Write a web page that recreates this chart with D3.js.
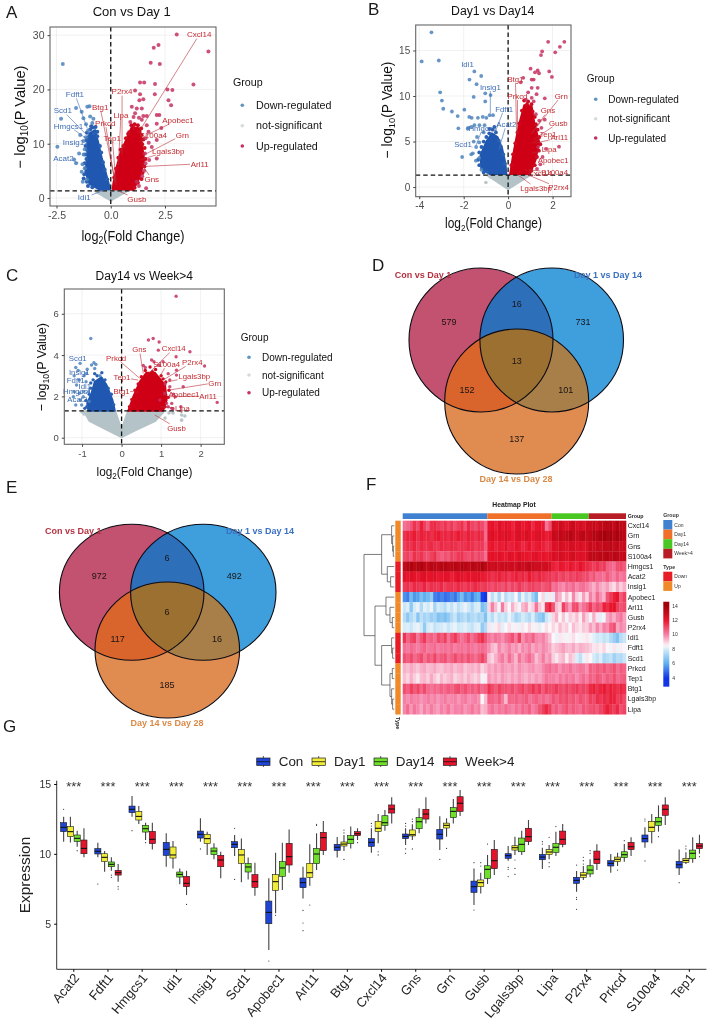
<!DOCTYPE html>
<html><head><meta charset="utf-8">
<script src="https://cdn.jsdelivr.net/npm/d3@7"></script>
<style>html,body{margin:0;padding:0;background:#fff}svg{display:block;filter:blur(.35px)}text{font-family:"Liberation Sans",Arial,sans-serif}</style>
</head><body><svg id="c" width="709" height="1020"></svg>
<script>
// ---------- Volcano data (dense centres are outlines) ----------
const upA=[[3.04,30.1],[4.5,27],[2.2,28.2],[1.98,27.7],[1.84,24.9],[2.26,24.7],[1.35,21.3],[1.54,21.3],[2.04,21],[3.81,20.9],[2.61,20],[2.84,19.9],[2.03,19.1],[1.12,19.8],[1.35,19.1],[2.66,18],[2.78,17.1],[1.5,18.2],[.97,16.8],[2.12,15.3],[2.24,15.3],[1.5,15.1],[1.12,15.6],[1.66,15.1],[2.33,12.9],[2.12,13.7],[1.43,16.5],[1.32,18],[1.2,16.5],[1.63,1.8],[1.54,5],[1.6,6.4],[1.77,7],[2.12,7.3],[1.58,8.2],[1.89,9.4],[2.12,10.7],[1.74,12.2],[1.66,13.4],[1.43,14.4],[1.3,14.8],[1.05,14.9],[.9,14],[1.6,11],[1.75,10.2],[1.45,4],[1.2,3],[1.3,2.2]];
const downA=[[-2.21,24.7],[-2.46,9.45],[-2.29,14.6],[-1.6,16.6],[-1.34,15.9],[-1.08,16.8],[-.98,16.9],[-1.26,14.7],[-.95,15],[-1.14,13.6],[-1.41,11.6],[-1.46,8.2],[-1.6,6.4],[-1.69,7.1],[-1.34,4.85],[-1.29,3],[-1.2,9],[-1.25,8],[-1.3,6.2],[-1.15,11.2],[-.85,13.8],[-.8,14.6],[-1.05,12.4],[-1.25,10.5],[-1.2,5.5],[-1.1,3.4]];
const nsA=[[-.5,.9],[.5,.9]];
const downCoreA=[[-.03,1.6],[-.49,1.5],[-.98,2.6],[-1.17,4.85],[-1.08,7.6],[-1.08,10.1],[-.98,11.9],[-.72,12.5],[-.57,10.1],[-.41,7.3],[-.18,3.9]];
const upCoreA=[[.09,1.6],[1.04,1.5],[1.35,3.9],[1.54,7],[1.43,10.1],[1.35,12.8],[.97,13.1],[.71,10.7],[.46,8.5],[.28,5.8],[.12,2.7]];
const nsCoreA=[[-.72,1.35],[0,-.37],[.74,1.35]];
const edgeDownA=[[-1.22,4.4],[-1.25,3.6],[-1.1,3],[-1.05,2.2],[-.85,2],[-1.15,5.5],[-1.2,6.4],[-1.12,7.2],[-1.18,8],[-1.1,8.9],[-1.16,9.6],[-1.12,10.6],[-1.05,11.2],[-1.1,12],[-.95,12.6],[-.82,13],[-.7,13.1],[-.62,11.4],[-.5,9.6],[-.44,8.4],[-.36,6.6],[-.28,5.2],[-.16,3.4],[-.62,12.2],[-.9,13.2],[-.78,11.9]];
const edgeUpA=[[1.1,1.9],[1.25,2.8],[1.42,3.5],[1.46,4.6],[1.55,5.8],[1.6,7.2],[1.5,8.1],[1.56,9.2],[1.45,9.9],[1.5,10.8],[1.42,11.6],[1.4,12.8],[1.25,13.4],[1.1,13.6],[.95,13.4],[.85,12.1],[.7,11],[.58,9.6],[.45,8.9],[.35,7.4],[.24,5.4],[.16,3.8],[1.05,12.9],[.8,11.8],[1.3,12.2]];
const downLabelsA=[["Fdft1",-1.65,19.1,-1.08,12.8],["Scd1",-2.21,16.1,-1.18,11.9],["Hmgcs1",-1.95,13.3,-1.03,10.7],["Insig1",-1.72,10.3,-1.1,10],["Acat2",-2.18,7.4,-1.5,6.5],["Idi1",-1.22,.06,-.19,1.6]];
const upLabelsA=[["Cxcl14",4.08,30.1,1.35,12.5],["P2rx4",.52,19.6,.52,8],["Btg1",-.49,16.7,.2,3],["Prkcd",-.25,13.8,.2,2.7],["Lipa",.47,15.3,.35,6],["Tep1",.07,11,.25,2.4],["S100a4",1.96,11.6,1.3,10.4],["Apobec1",3.1,14.4,1.6,11.5],["Grn",3.3,11.6,1.66,8.2],["Lgals3bp",2.65,8.66,1.35,7],["Arl11",4.1,6.3,1.5,5.8],["Gns",1.89,3.5,1.4,6.4],["Gusb",1.2,-.18,.43,1.16]];

const upB=[[2.53,15.95],[1.8,15.95],[2.33,15.4],[2.12,14.8],[1.53,14.9],[1.48,14.5],[1.01,13],[1.21,12.6],[1.33,12.8],[1.39,12.5],[1.85,12.7],[1.97,12.1],[1.06,11.8],[1.15,11.8],[.68,12],[.57,11.5],[1.33,10.9],[1.06,10.9],[1.28,10.2],[1.65,9.75],[1.15,9.4],[1.06,9.8],[2.29,4.44],[1.65,7.4],[1.4,7.3],[1.5,6.5],[1.7,4.2],[1.55,3.3],[1.35,4.4],[1.25,8],[1.45,2.5],[1.3,2],[.9,10.4],[.8,9.6]];
const downB=[[-3.45,17],[-3.89,13.8],[-3.12,13.9],[-1.52,12.7],[-1.74,11.8],[-1.21,12.2],[-1.42,11.3],[-3.06,10.4],[-2.98,9.5],[-2.92,8.6],[-2.53,8.3],[-2.27,7.8],[-1.97,8.5],[-2.24,6.45],[-2.07,3.3],[-1.75,7.7],[-1.64,7.6],[-1.8,6.5],[-1.66,6.6],[-1.55,9.9],[-1.03,10.3],[-.79,10.1],[-1.03,9.4],[-1.14,7.7],[-.98,7.6],[-.83,7.9],[-.68,7.9],[-1.36,7.6],[-1.52,6.8],[-1.29,6.8],[-1.06,6.8],[-1.82,6.4],[-1.59,3.7],[-1.44,4.4],[-1.66,3.6],[-1.4,5.5],[-1.55,5],[-1.3,4.9],[-1.1,6],[-1.3,3.2],[-1.45,2.9],[-1.2,1.9]];
const nsB=[[-1,.5],[-.8,1.1]];
const downCoreB=[[-.08,1.43],[-.83,1.43],[-1.21,2.05],[-1.24,3.5],[-.98,5],[-.73,5.9],[-.48,5.5],[-.27,4.25],[-.12,2.6]];
const upCoreB=[[.09,1.43],[.98,1.43],[1.24,3],[1.39,5],[1.18,7],[1.06,8.85],[.73,9],[.55,7.4],[.38,5.5],[.21,3.3]];
const nsCoreB=[[-.9,1.3],[0,-.15],[.95,1.3]];
const edgeDownB=[[-1.3,2.4],[-1.35,3],[-1.3,3.8],[-1.2,4.4],[-1.1,5],[-.98,5.5],[-.85,5.9],[-.7,6.3],[-.55,6],[-.42,5.1],[-.32,4.4],[-.22,3.6],[-.15,2.6],[-.95,1.7],[-1.1,1.6],[-.62,6.6],[-.85,6.4]];
const edgeUpB=[[1.05,1.8],[1.2,2.4],[1.3,3.3],[1.38,4],[1.45,4.7],[1.4,5.5],[1.33,6.3],[1.25,6.9],[1.2,7.7],[1.1,8.3],[1.05,9.1],[.9,9.4],[.72,9.5],[.62,8.4],[.5,7],[.42,6],[.32,4.8],[.22,3.6],[.15,2.4],[.85,9.1]];
const downLabelsB=[["Idi1",-1.83,13.5,null,null],["Insig1",-.8,11,-.8,8.1],["Fdft1",-.18,8.6,-.6,5.9],["Acat2",-.08,6.9,-.42,4.1],["Hmgcs1",-1.14,6.5,-1.44,4.6],["Scd1",-2.03,4.66,-1.64,4.4]];
const upLabelsB=[["Btg1",.33,11.8,.38,5.9],["Prkcd",.42,10,.42,5.9],["Grn",2.39,10,1.06,5.9],["Gns",1.79,8.4,1.06,5.9],["Gusb",2.26,7.04,1.14,5.2],["Tep1",1.79,5.8,1.06,4.8],["Arl11",2.3,5.43,1.2,4.8],["Lipa",1.85,4.14,1.06,3.7],["Apobec1",2.03,2.97,1.21,3.3],["S100a4",2.09,1.61,.91,1.9],["Cxcl14",1.44,1.5,.76,1.9],["Lgals3bp",1.26,-.11,.38,1.43],["P2rx4",2.27,-.07,.91,1.32]];

const upC=[[1.38,6.85],[.8,4.8],[.68,4.73],[.95,4.63],[1.73,4.16],[.93,4.24],[1.38,3.92],[2.1,3.47],[2.42,1.71],[1.39,3.27],[1.56,2.47],[1.22,2.79],[1.39,3.03],[1.1,2.6],[1.22,2.47],[1.18,3.1],[1.05,3.68],[.82,3.68],[.76,3.76],[.95,3.51],[1.14,1.66],[1.27,1.66],[1.18,1.5],[.97,1.82],[1.5,1.5],[1.27,1.42],[1.36,1.98],[1.09,2.15],[1.31,2.11],[.55,3.5],[.6,3.4],[1.3,1.4]];
const downC=[[-.78,4.8],[-.7,3.63],[-.76,3.52],[-1.05,3.6],[-1.16,3.4],[-1.2,3],[-1.1,3.26],[-.95,3],[-.9,2.71],[-1.14,2.55],[-1.2,2.23],[-1.07,2.15],[-1.16,1.58],[-1.01,1.58],[-1.05,1.82],[-.97,2.23],[-.89,3.11],[-.68,3.35],[-.87,3.32],[-.55,3],[-1.22,1.98],[-1.07,2.79],[-.84,2.23],[-.82,1.75],[-.97,1.98],[-.65,3.55]];
const nsC=[[1.52,1.1],[1.52,.85],[1.5,1.3],[1.6,1.05],[-.95,1.15],[-1,1.25],[1.1,.95],[1.2,1.2],[1.3,1.2]];
const downCoreC=[[-.84,1.3],[-.17,1.3],[-.23,1.82],[-.38,2.55],[-.51,2.92],[-.68,2.7],[-.76,2.15],[-.87,1.66]];
const upCoreC=[[.17,1.3],[1.05,1.3],[1.14,1.82],[1.1,2.55],[.84,3.15],[.63,3.15],[.46,2.7],[.3,2]];
const nsCoreC=[[-.93,1.26],[-.8,.82],[-.3,.34],[0,.05],[.3,.34],[.84,.82],[1.05,1.26],[.17,1.26],[0,.3],[-.17,1.26]];
const edgeDownC=[[-.88,1.5],[-.9,1.8],[-.82,2.1],[-.78,2.4],[-.72,2.8],[-.62,3],[-.5,3.15],[-.42,2.8],[-.34,2.4],[-.26,2.1],[-.2,1.6],[-.68,3.1],[-.78,2.65],[-.93,1.42]];
const edgeUpC=[[1.1,1.5],[1.18,1.95],[1.2,2.3],[1.12,2.7],[1,3],[.86,3.3],[.72,3.42],[.6,3.25],[.5,2.95],[.42,2.6],[.34,2.3],[.26,1.85],[.2,1.5],[1.05,2.85],[.78,3.2],[.4,2.2]];
const downLabelsC=[["Scd1",-1.11,3.84,null,null],["Insig1",-1.07,3.15,null,null],["Fdft1",-1.16,2.79,null,null],["Idi1",-.93,2.5,null,null],["Hmgcs1",-1.12,2.27,null,null],["Acat2",-1.12,1.85,null,null]];
const upLabelsC=[["Prkcd",-.14,3.87,.46,2.87],["Gns",.45,4.27,.55,3.11],["Cxcl14",1.32,4.31,.68,3.11],["S100a4",1.14,3.56,.97,2.95],["P2rx4",1.79,3.65,1.05,2.79],["Tep1",.01,2.92,.42,2.79],["Lgals3bp",1.84,2.98,1.18,2.71],["Grn",2.36,2.66,1.22,2.31],["Btg1",0,2.24,.3,2.23],["Apobec1",1.58,2.11,1.05,2.06],["Arl11",2.19,2.02,1.22,1.98],["Lipa",1.54,1.42,.97,1.5],["Gusb",1.39,.48,.84,1.1]];

const groupNames=["Down-regulated","not-significant","Up-regulated"];
const pThreshold=1.3;

// ---------- Venn data ----------
const vennD=[579,16,731,13,152,101,137];
const vennE=[972,6,492,6,117,16,185];
const vennSets=["Con vs Day 1","Day 1 vs Day 14","Day 14 vs Day 28"];

// ---------- Heatmap data ----------
const heatGenes=["Cxcl14","Grn","Gns","S100a4","Hmgcs1","Acat2","Insig1","Apobec1","Arl11","Gusb","P2rx4","Idi1","Fdft1","Scd1","Prkcd","Tep1","Btg1","Lgals3bp","Lipa"];
const geneType=["Up","Up","Up","Up","Down","Down","Down","Up","Up","Up","Up","Down","Down","Down","Up","Up","Up","Up","Up"];
const sampleGroups=[["Con",25],["Day1",19],["Day14",11],["Week>4",11]];
const hCxcl14=[10.3,10.5,10.8,11.4,11,11.8,11.2,10.7,11.5,11.6,11.3,11.1,11.4,11,11.3,10.9,11.2,11.5,10.8,11.6,11.1,10.9,11.3,11,10.4,12,12.1,11.8,12.3,11.9,12.2,12,11.7,12.1,12.3,11.9,12,12.2,11.6,12,12.1,11.9,10.2,10.9,12.6,12.4,12.8,12.5,12.3,12.7,12.9,12.4,12.6,12.3,12.8,12.8,13,12.7,13.1,13.2,13.3,13.4,13,13.5,13.2,13.1];
const hGrn=[11.4,11.7,11.6,11.9,11.5,11.8,11.6,11.7,11.5,11.8,11.9,11.6,11.7,11.5,11.8,11.6,11.9,11.7,11.5,11.8,11.6,11.4,11.7,11.5,10.4,12.2,12.4,12,12.3,12.1,12.5,12.2,11.9,12.3,12.4,12.1,12.5,12.2,12,12.3,12.4,12.1,11.8,12,13,12.8,13.2,12.9,13.1,13.4,13,12.8,13.1,13.3,12.9,13.2,13.5,13.4,13.7,13.9,13.6,13.8,13.4,13.7,13.5,13.3];
const hGns=[11.2,11.5,11.4,11.7,11.3,11.6,11.4,11.5,11.6,11.4,11.3,11.6,11.5,11.4,11.6,11.5,11.3,11.5,11.4,11.6,11.5,11.2,11.4,11.3,10.6,11.9,12,11.7,11.9,11.8,12.1,11.7,11.8,12,11.9,11.6,11.8,12,11.7,11.9,12,11.8,11.5,11.7,12.4,12.3,12.6,12.4,12.2,12.6,12.5,12.3,12.5,12.2,12.4,12.9,12.7,13,12.8,13.1,13,13.3,12.9,13.1,12.8,12.9];
const hS100a4=[11,11.2,10.9,11.5,11.2,11.4,11,10.9,11.2,11.5,10.8,10.6,10.9,10.7,11.2,11,11.3,11.4,11,10.9,11.2,10.8,11.1,10.9,10.3,12.1,12.2,12,12.3,12,11.9,12.3,12.1,12,12.4,12.1,12,11.9,12.2,12.3,12,12.1,11.9,12.1,12.5,12.3,12.6,12.4,12.2,12.5,12.6,12.3,12.4,12.2,12.5,13.1,13.2,13,13.3,13.2,13.4,13.1,13.3,13.2,13,13.1];
const hHmgcs1=[13,13.4,13.6,13.2,13.5,13.6,13.2,13,13.4,13.3,13.1,13.4,13.5,13.2,13.3,13.4,13.2,13.5,13.3,13.1,13.4,13.2,13.3,13.6,13.2,12.9,12.7,12.9,12.6,12.8,12.9,12.7,12.8,12.6,13,12.8,12.9,13.1,12.9,12.7,12.8,12.6,12.7,12.5,11.8,11.6,12,11.9,11.7,12,11.8,11.7,12.1,11.8,11.6,11.4,11.2,11.5,11.1,11.3,10.6,10.5,10.3,10.9,11,10.7];
const hAcat2=[12.2,12,12.3,12.1,11.9,12.2,12.4,12,12.1,12.3,11.9,12,12.2,12.1,11.8,12,12.3,12.1,11.9,12.2,12,12.1,12.3,11.9,11.8,11.7,11.4,11.6,11.8,11.5,11.7,11.3,11.6,11.8,11.5,11.7,11.4,11.9,11.6,11.4,11.7,11.5,11.3,11.4,11.1,11.3,11,11.2,10.9,11.2,11,11.3,11.1,10.9,11,10.5,10.8,10.3,10.4,10.2,10.7,10.3,10,10.5,10.1,10.3];
const hInsig1=[11.3,11.5,11.2,11.6,11.4,11.3,11.7,11.2,11.5,11.4,11.3,11.6,11.2,11.4,11.5,11.3,11.6,11.4,11.2,11.5,11.3,11.6,11.4,11.2,11.3,11.1,10.9,11.2,11,10.8,11.2,10.7,11.1,10.9,11.3,11,10.8,11.1,11.2,10.9,11,10.7,10.9,11.1,10.2,10.4,10,9.8,10.3,10.1,10.4,9.9,10.2,10.3,10,9.7,9.4,9.9,9.5,9.3,9.6,9.1,8.8,9.5,9,9.4];
const hApobec1=[5.5,5.2,6.4,5.6,5.8,6.5,6,6.3,6.9,5.2,5,5.3,4.9,5.1,5.4,5,5.7,6.4,5.5,5.8,5.2,5.9,6.1,4.2,4,8.6,7.6,8.2,7.3,8.4,7.5,8,7.8,8.5,7.2,8.3,7.6,8,7.1,6.4,8.5,8.9,8.2,8.7,8.2,9.8,9.4,8.4,9.2,8.6,9.9,9,8.7,9.6,8.9,10,9.5,10.4,9.8,9.4,10.8,11.3,11.8,12,10.7,11.2];
const hArl11=[7.8,8.1,6.8,8,8.3,7.4,8.2,7.9,8.4,7.2,8,7.8,7.5,8.1,7.7,8.2,7.6,8,8.3,7.9,7.4,8,8.1,6.5,6.9,8.9,10,9.2,8.4,10.1,9,8.5,9.4,8.8,8.4,9.3,9.6,8.7,9,10.2,9.1,8.7,11.3,11.8,10.8,9.2,8.9,11.2,10.3,9.6,10.9,11,9.8,10.3,10.6,11.3,10.5,11,10.7,11.8,11.5,12,12.1,11.2,10.8,11];
const hGusb=[7.5,6.8,7.4,7.8,6.7,7.6,7.2,7.4,7,7.2,6.6,6.8,6.5,6.9,7.4,7.8,7,7.3,7.6,7.1,7.4,7.6,7.2,7.4,6.6,8,7.5,8.2,7.7,7.9,7.6,8.3,7.8,7.2,7.5,8,7.7,7.4,8.1,7.2,6.9,6.6,7.8,8.2,8.9,9.4,8.5,9.1,8.4,9,8.8,9.2,8.6,9.6,9,8.4,9.4,8.7,8.2,8.4,9.5,9.8,9.4,9.9,10.2,9.6];
const hP2rx4=[8,8.1,7.8,8.2,8.3,7.9,6.9,8,8.2,7.7,7.9,8,8.2,7.8,8.1,8.3,7.9,8,8.2,7.9,7.7,8.1,8.2,6.9,7.4,8.7,8.3,8.6,8.9,8.2,8.5,8.8,8.4,8.6,8.3,8.7,8.5,8.9,8.4,8.6,8.2,8.5,8.8,8.5,8.9,8.6,9.2,8.8,9,8.5,9.2,8.9,8.7,9.1,9,9.6,9.2,9.9,9.4,10,9.8,10.6,10.9,9.5,9.9,9.7];
const hIdi1=[11.4,10.5,11,11.2,10.2,10.8,11.3,10.4,10.6,10.3,11,10.7,11.2,10.2,10.9,11.3,10.6,10.2,10.5,11,10.3,10.7,11.2,11.5,10.8,10.2,9.9,10.3,10.1,9.8,10.3,10.5,10.9,10.1,11.2,9.8,10.3,10.1,10.6,9.9,9.8,10,9.6,9.2,8.5,8.3,8.7,8.6,8.4,8.6,8.8,8.5,8.4,8.6,8.7,8.4,8.2,7.9,8,7.7,7.9,7.4,7,6.6,7.5,7.8];
const hFdft1=[10.3,10.1,10.4,10.2,10,10.3,10.5,10.1,10.2,10.4,10,10.2,10.3,10.1,10.4,10,10.2,10.3,10.1,10.4,10.2,10,10.3,10.4,10.2,9.8,9.3,9.1,9.9,9.5,9.7,10,9.6,9.8,9.4,9.9,9.7,10,9.5,9.8,9.6,9.9,9.7,9.5,9,9.2,9.4,9.6,9.3,9.2,9.5,9.1,9.4,9.3,9.2,9,8.7,8.8,8.6,8.9,8.5,8.4,8.7,8.3,8.6,8.5];
const hScd1=[10.9,10.6,11,10.4,10.7,11,10.3,10.8,10.5,11.1,10.4,10.7,10.9,10.3,10.6,11,10.5,10.8,10.4,10.9,10.6,10.3,10.7,11.1,10.5,9.2,8.9,9.4,9.8,10.1,9.6,10.3,9.8,9.3,10.2,9.7,10,10.4,9.9,9.2,9.6,10.1,9.5,9.8,9,8.7,9.1,9.3,8.6,9.2,8.9,8.1,7.6,8.3,8.7,8.5,8,7.7,8.1,7.3,7.5,7.7,7.1,7.5,7.4,7.8];
const hPrkcd=[9.4,9.2,9.5,9.3,9.1,9.4,9.5,9.2,9.3,9.5,9.2,9.1,9.4,9.3,9.5,9.2,9.4,9.5,9.1,9.3,9.4,9.2,9.5,8.9,9.2,9.6,9.4,9.7,9.5,9.8,9.6,9.5,9.7,9.4,9.8,9.6,9.5,9.7,9.8,9.5,9.6,9.9,10.2,10.4,10,10.2,9.8,10.1,10,10.3,9.9,10,10.2,10.1,9.8,10.6,10.4,10.7,10.5,10.8,10.4,10.6,10.9,10.3,10.7,10.5];
const hTep1=[9.2,8.9,9.4,9,8.7,9.2,9.3,9,9.5,9.1,8.8,9.3,9,9.2,9.4,8.9,9.1,9.3,9,9.4,9.1,8.9,9.2,8.4,8.6,9.7,9.4,9.6,9.3,9.7,9.5,9.3,9.6,9.4,9.7,9.5,9.3,9.6,9.4,9.7,9.5,9.8,10.2,10,10,9.8,10.2,9.9,10.3,10,10.2,9.8,10.1,10.4,10,10.6,10.4,10.8,10.6,10.3,10.7,10.5,10.9,10.4,10.6,10.7];
const hBtg1=[10.9,10.6,11.2,10.7,11.1,10.5,11,10.4,10.2,10.5,10.3,10.6,10.4,10.7,10.5,10.8,11,10.6,10.9,10.5,10.7,10.4,10.9,10.4,10.6,11.4,11,10.7,11.2,10.8,10.9,10.7,11,10.6,10.9,11.2,10.7,11,11.4,10.9,11.3,10.7,11.2,11,11,11.3,11,10.8,11.2,10.9,11.1,11.3,10.9,11.1,11,11.6,11.8,11.4,11.7,11.9,11.5,11.8,11.6,11.4,11.7,11.5];
const hLgals3bp=[10,9.8,10.1,9.9,10,9.7,9.9,10.1,9.8,10,9.7,9.9,10.1,9.8,9.9,10,9.7,10,10.1,9.8,9.9,10,9.8,8.5,9.2,10.6,10.5,10.3,10.7,10.1,9.3,10.5,10.4,10.6,10.3,10.5,10.7,10.2,10.4,10.6,10.3,10.5,10.2,10.4,10.8,10.5,10.9,10.7,11,10.6,10.8,10.5,10.9,10.7,10.6,11.2,11,11.5,11.3,11.6,11.4,11.8,11.7,11.2,11.4,11];
const hLipa=[9.9,10.4,9.7,10.2,9.9,9.5,10,9.7,10.1,9.8,9.6,10,9.8,10.2,9.7,10,9.9,10.1,9.7,9.9,10.2,9.8,10,9.2,9.4,10,10.3,9.9,10.2,10,10.4,10.1,9.9,10.3,10,10.5,10.2,10.6,10,10.3,10.8,11.2,11.6,11.2,10.4,10.7,10.3,10.6,10.9,10.4,10.7,10.5,10.3,10.8,10.6,10.8,11,10.7,11.1,11.4,11.8,11.5,11.2,11.6,10.9,11.1];
const heatRows=[hCxcl14,hGrn,hGns,hS100a4,hHmgcs1,hAcat2,hInsig1,hApobec1,hArl11,hGusb,hP2rx4,hIdi1,hFdft1,hScd1,hPrkcd,hTep1,hBtg1,hLgals3bp,hLipa];
// dendrogram: h = merge height, leaves are heatGenes names
const dendro={h:91,children:[
 {h:38,children:[
   {h:8,children:[{n:"Cxcl14"},{h:5,children:[{n:"Grn"},{h:3,children:[{n:"Gns"},{n:"S100a4"}]}]}]},
   {h:21,children:[{n:"Hmgcs1"},{h:11,children:[{n:"Acat2"},{n:"Insig1"}]}]}]},
 {h:58,children:[
   {h:25,children:[{n:"Apobec1"},{h:13,children:[{n:"Arl11"},{h:6,children:[{n:"Gusb"},{n:"P2rx4"}]}]}]},
   {h:38,children:[
     {h:8,children:[{n:"Idi1"},{h:5,children:[{n:"Fdft1"},{n:"Scd1"}]}]},
     {h:13,children:[{h:6,children:[{n:"Prkcd"},{n:"Tep1"}]},{h:8,children:[{n:"Btg1"},{h:5,children:[{n:"Lgals3bp"},{n:"Lipa"}]}]}]}]}]}]};

// ---------- Boxplot data: [low whisker, q1, median, q3, high whisker, ...outliers] ----------
const boxGenes=["Acat2","Fdft1","Hmgcs1","Idi1","Insig1","Scd1","Apobec1","Arl11","Btg1","Cxcl14","Gns","Grn","Gusb","Lgals3bp","Lipa","P2rx4","Prkcd","S100a4","Tep1"];
const boxGroups=["Con","Day1","Day14","Week>4"];
const conBox=[[10.87,11.59,11.9,12.23,12.66,13.19],[9.75,9.99,10.18,10.37,10.8,7.84],[12.66,12.95,13.19,13.42,14.14,11.66],[9.08,9.89,10.32,10.82,11.47],[10.87,11.13,11.4,11.63,12.54,10.35],[9.84,10.44,10.68,10.87,11.35,11.83,8.17],[3.11,5,5.81,6.62,8.25,2.33],[6.81,7.58,7.94,8.27,9.08,5.95,5.05,4.5],[9.73,10.25,10.47,10.68,11.2],[10.08,10.54,10.82,11.09,11.83,12.18,11.99],[10.63,11.09,11.25,11.42,11.83,12.18,11.99,10.35,10.04],[10.27,11.06,11.4,11.75,12.7,9.6],[6.34,7.24,7.65,8.05,8.96,5.98,9.37],[9.51,9.68,9.87,10.01,10.56,9.03,8.89,8.37],[8.91,9.58,9.77,9.96,10.44,10.87,10.7],[7.29,7.89,8.1,8.32,8.77,9.2,6.89,6.74,6.03],[8.65,9.13,9.32,9.51,9.99],[10.44,10.85,11.09,11.35,11.9,9.49,12.49,12.35],[8.48,8.99,9.22,9.46,10.32,7.94]];
const day1Box=[[10.82,11.23,11.59,11.95,12.66],[8.72,9.44,9.75,10.01,10.2],[12.14,12.42,12.68,13.04,13.42],[8.96,9.7,9.92,10.49,10.92],[9.92,10.73,11.09,11.4,11.59],[7.96,9.32,9.92,10.3,11.09],[5.74,7.39,8.01,8.51,10.08,5.6],[7.72,8.32,8.65,9.32,10.68,6.34],[10.2,10.56,10.7,10.85,11.35,11.7,11.5,9.6],[10.75,11.59,11.83,12.33,12.85,10.15,9.92],[10.99,11.28,11.37,11.71,12.11,12.49,12.3,10.35],[11.23,11.85,12.04,12.2,12.54,10.39],[7.17,7.65,7.94,8.13,8.65,9.37,9.13],[9.92,10.27,10.44,10.58,11.23,9.56,8.96,8.53],[9.61,9.94,10.13,10.3,10.63,11.18,9.37,9.08],[8.13,8.32,8.48,8.65,9.13,9.75,9.51,9.27],[9.13,9.44,9.61,9.77,10.08,8.84],[10.75,11.59,11.9,12.33,12.85],[9.27,9.39,9.53,9.68,10.11,10.56,10.35]];
const day14Box=[[10.51,10.89,11.11,11.35,11.66,10.23],[8.79,9.08,9.25,9.42,9.75,8.48,8.32],[10.99,11.56,11.8,12.04,12.23,10.8],[7.82,8.34,8.53,8.7,8.96],[9.61,9.94,10.2,10.42,10.75],[8.17,8.7,9.06,9.3,9.73],[7.41,8.39,8.99,9.44,10.8],[8.84,9.3,9.99,10.39,11.47,12.11,12.04],[10.39,10.73,11.04,11.3,11.95],[11.66,12.04,12.23,12.73,13.14],[11.47,11.8,12.3,12.59,13.26],[12.18,12.59,13.04,13.31,13.93],[7.84,8.25,8.89,9.15,9.92,10.7],[9.92,10.15,10.68,11.13,11.66],[9.84,10.11,10.47,10.73,11.59,11.95],[8.32,8.56,8.84,9.15,9.61,10.23,10.04],[9.44,9.73,9.94,10.15,10.7,10.94],[11.59,12.04,12.3,12.61,13.47,11.23],[9.37,9.65,10.04,10.27,11.18]];
const weekBox=[[9.75,10.01,10.39,10.99,11.83],[8.01,8.48,8.65,8.82,9.27,7.65,7.48],[10.32,10.73,11.04,11.61,12.23],[7.05,7.65,7.89,8.39,8.79,6.38],[8.25,9.08,9.56,9.89,10.15],[7,7.6,8.01,8.51,9.37],[8.65,9.2,9.8,10.75,11.75],[9.92,10.23,11.16,11.54,12.35],[10.99,11.3,11.44,11.59,11.83,10.8],[12.18,12.92,13.21,13.5,14.05],[12.18,12.49,12.85,13.19,14.05],[12.71,13.04,13.62,14.09,14.57],[8.48,8.94,9.51,10.32,10.99],[10.63,10.87,11.23,11.83,12.42],[10.47,10.68,11.04,11.63,12.14],[8.84,9.3,9.61,10.2,10.68],[9.84,10.3,10.51,10.82,11.18],[12.06,12.76,13.19,13.5,14.05],[10.01,10.37,10.56,10.73,11.37,9.8]];
const boxTicks=[5,10,15];

// ---------- Drawing ----------
const svg=d3.select("#c");
const FF='"Liberation Sans",Arial,sans-serif';
const line=d3.line().curve(d3.curveLinearClosed);
function letter(t,x,y){svg.append("text").attr("x",x).attr("y",y).attr("font-size",17).attr("fill","#1a1a1a").text(t);}
letter("A",6,18);letter("B",368,15);letter("C",6,281);letter("D",372,271);letter("E",6,493);letter("F",366,490);letter("G",3,732);

function volcano(c){
 const g=svg.append("g");
 const x=d3.scaleLinear().domain(c.xd).range([c.l,c.r]);
 const y=d3.scaleLinear().domain(c.yd).range([c.b,c.t]);
 const id="clip"+c.key;
 svg.append("clipPath").attr("id",id).append("rect").attr("x",c.l).attr("y",c.t).attr("width",c.r-c.l).attr("height",c.b-c.t);
 // grid
 const gg=g.append("g").attr("stroke","#e8e8e8").attr("stroke-width",.6);
 gg.selectAll("line.v").data(c.xt).join("line").attr("x1",d=>x(d)).attr("x2",d=>x(d)).attr("y1",c.t).attr("y2",c.b);
 gg.selectAll("line.h").data(c.yt).join("line").attr("y1",d=>y(d)).attr("y2",d=>y(d)).attr("x1",c.l).attr("x2",c.r);
 const p=g.append("g").attr("clip-path",`url(#${id})`);
 const poly=pts=>line(pts.map(d=>[x(d[0]),y(d[1])]));
 p.append("path").attr("d",poly(c.nsCore)).attr("fill","#b4c3c7").attr("stroke","#b4c3c7").attr("stroke-width",3).attr("stroke-linejoin","round");
 p.selectAll("circle.n").data(c.ns).join("circle").attr("cx",d=>x(d[0])).attr("cy",d=>y(d[1])).attr("r",1.8).attr("fill","#b9c7ca");
 p.append("path").attr("d",poly(c.downCore)).attr("fill","#2057b0").attr("stroke","#2057b0").attr("stroke-width",2).attr("stroke-linejoin","round");
 p.append("path").attr("d",poly(c.upCore)).attr("fill","#cf0016").attr("stroke","#cf0016").attr("stroke-width",2).attr("stroke-linejoin","round");
 p.selectAll("circle.ed").data(c.edgeDown).join("circle").attr("cx",d=>x(d[0])).attr("cy",d=>y(d[1])).attr("r",c.pr).attr("fill","#2a60b4");
 p.selectAll("circle.eu").data(c.edgeUp).join("circle").attr("cx",d=>x(d[0])).attr("cy",d=>y(d[1])).attr("r",c.pr).attr("fill","#cf0a20");
 p.selectAll("circle.d").data(c.down).join("circle").attr("cx",d=>x(d[0])).attr("cy",d=>y(d[1])).attr("r",c.pr).attr("fill","#4c84bc").attr("fill-opacity",.85);
 p.selectAll("circle.u").data(c.up).join("circle").attr("cx",d=>x(d[0])).attr("cy",d=>y(d[1])).attr("r",c.pr).attr("fill","#c5305f").attr("fill-opacity",.85);
 // threshold lines
 p.append("line").attr("x1",x(0)).attr("x2",x(0)).attr("y1",c.t).attr("y2",c.b).attr("stroke","#111").attr("stroke-width",1.3).attr("stroke-dasharray","4.5 3");
 p.append("line").attr("x1",c.l).attr("x2",c.r).attr("y1",y(pThreshold)).attr("y2",y(pThreshold)).attr("stroke","#111").attr("stroke-width",1.3).attr("stroke-dasharray","4.5 3");
 // labels
 function labels(list,col,seg){
  list.forEach(d=>{
   const lx=x(d[1]),ly=y(d[2]);
   const t=g.append("text").attr("x",lx).attr("y",ly+2.8).attr("text-anchor","middle").attr("font-size",c.lfs).attr("fill",col).text(d[0]);
   if(d[3]!==null){
     const b=t.node().getBBox(),ex=x(d[3]),ey=y(d[4]);
     const hw=b.width/2+.5,hh=b.height/2-.5,dx=ex-lx,dy=ey-ly;
     const s=Math.min(Math.abs(dx)>0?hw/Math.abs(dx):9,Math.abs(dy)>0?hh/Math.abs(dy):9);
     g.insert("line","text").attr("x1",lx+dx*s).attr("y1",ly+dy*s).attr("x2",ex).attr("y2",ey).attr("stroke",seg).attr("stroke-width",.6);
   }
  });
 }
 labels(c.downLabels,"#3f6db5","#3f6db5");
 labels(c.upLabels,"#c42a30","#b8303a");
 // frame and axes
 g.append("rect").attr("x",c.l).attr("y",c.t).attr("width",c.r-c.l).attr("height",c.b-c.t).attr("fill","none").attr("stroke","#666").attr("stroke-width",1.1);
 const ax=g.append("g").attr("transform",`translate(0,${c.b})`).call(d3.axisBottom(x).tickValues(c.xt).tickSize(2.5).tickFormat(d=>d.toFixed(c.xdec)));
 const ay=g.append("g").attr("transform",`translate(${c.l},0)`).call(d3.axisLeft(y).tickValues(c.yt).tickSize(2.5).tickFormat(d3.format("d")));
 [ax,ay].forEach(a=>{a.select(".domain").remove();a.selectAll("text").attr("font-size",c.tfs).attr("fill","#4d4d4d").attr("font-family",FF);a.selectAll("line").attr("stroke","#444");});
 // titles
 g.append("text").attr("x",c.tx).attr("y",c.ty).attr("text-anchor","middle").attr("font-size",c.tfz).attr("fill","#111").text(c.title);
 const xl=g.append("text").attr("text-anchor","middle").attr("font-size",c.afs).attr("fill","#111");
 xl.append("tspan").text("log");xl.append("tspan").attr("font-size",c.afs*.68).attr("dy",3).text("2");xl.append("tspan").attr("dy",-3).text("(Fold Change)");
 xl.attr("transform",`translate(${c.xlx},${c.xly}) scale(${c.xlw/xl.node().getComputedTextLength()},1)`);
 const yl=g.append("text").attr("text-anchor","middle").attr("font-size",c.afs).attr("fill","#111");
 yl.append("tspan").text("− log");yl.append("tspan").attr("font-size",c.afs*.68).attr("dy",3).text("10");yl.append("tspan").attr("dy",-3).text("(P Value)");
 yl.attr("transform",`translate(${c.ylx},${c.yly}) rotate(-90) scale(${c.ylw/yl.node().getComputedTextLength()},1)`);
 // legend
 g.append("text").attr("x",c.lg[0]).attr("y",c.lg[1]).attr("font-size",c.lgf).attr("fill","#111").text("Group");
 const cols=["#5f95bf","#d4dbdd","#c5305f"];
 groupNames.forEach((n,i)=>{
  g.append("circle").attr("cx",c.lg[2]).attr("cy",c.lg[3][i]).attr("r",1.8).attr("fill",cols[i]);
  g.append("text").attr("x",c.lg[4]).attr("y",c.lg[3][i]+3.7).attr("font-size",c.lgf).attr("fill","#111").text(n);
 });
}
volcano({key:"A",title:"Con vs Day 1",xd:[-2.8,4.85],yd:[-1.47,31.5],l:50,r:216,t:27,b:206,xt:[-2.5,0,2.5],xdec:1,yt:[0,10,20,30],pr:2,lfs:8,tfs:10.5,tfz:13,afs:15,
 up:upA,down:downA,ns:nsA,upCore:upCoreA,downCore:downCoreA,nsCore:nsCoreA,edgeUp:edgeUpA,edgeDown:edgeDownA,upLabels:upLabelsA,downLabels:downLabelsA,
 tx:131.7,ty:16,xlx:133,xly:241,xlw:103,ylx:25,yly:117,ylw:103,lg:[233,86,242.3,[105.3,125.7,146],256],lgf:10.7});
volcano({key:"B",title:"Day1 vs Day14",xd:[-4.16,2.83],yd:[-1.06,17.8],l:415.7,r:571,t:25,b:196.7,xt:[-4,-2,0,2],xdec:0,yt:[0,5,10,15],pr:1.9,lfs:7.8,tfs:10,tfz:12.3,afs:14.5,
 up:upB,down:downB,ns:nsB,upCore:upCoreB,downCore:downCoreB,nsCore:nsCoreB,edgeUp:edgeUpB,edgeDown:edgeDownB,upLabels:upLabelsB,downLabels:downLabelsB,
 tx:492.7,ty:15,xlx:493.5,xly:228,xlw:97,ylx:392,yly:110,ylw:97,lg:[586.7,81.5,595.7,[99.3,118.7,138],608.3],lgf:10});
volcano({key:"C",title:"Day14 vs Week>4",xd:[-1.45,2.6],yd:[-.32,7.2],l:64.3,r:224.3,t:289,b:444.3,xt:[-1,0,1,2],xdec:0,yt:[0,2,4,6],pr:1.7,lfs:7.8,tfs:9.5,tfz:12,afs:13.5,
 up:upC,down:downC,ns:nsC,upCore:upCoreC,downCore:downCoreC,nsCore:nsCoreC,edgeUp:edgeUpC,edgeDown:edgeDownC,upLabels:upLabelsC,downLabels:downLabelsC,
 tx:144.3,ty:280,xlx:144.5,xly:476,xlw:96,ylx:46,yly:367,ylw:88,lg:[240.7,341,249,[357.3,375,392.7],262],lgf:10});

// Venn
function venn(key,R,B,O,counts,pos,titles){
 const g=svg.append("g");
 const defs=svg.append("defs");
 const sets={R,B,O};
 Object.keys(sets).forEach(k=>defs.append("clipPath").attr("id",key+k).append("ellipse").attr("cx",sets[k][0]).attr("cy",sets[k][1]).attr("rx",sets[k][2]).attr("ry",sets[k][3]));
 const el=(par,e,fill)=>par.append("ellipse").attr("cx",e[0]).attr("cy",e[1]).attr("rx",e[2]).attr("ry",e[3]).attr("fill",fill);
 el(g,R,"#c2526f");el(g,B,"#3f9fdd");el(g,O,"#e08c50");
 el(g.append("g").attr("clip-path",`url(#${key}R)`),B,"#2e6fb9");
 el(g.append("g").attr("clip-path",`url(#${key}R)`),O,"#d9652c");
 el(g.append("g").attr("clip-path",`url(#${key}B)`),O,"#a87f48");
 el(g.append("g").attr("clip-path",`url(#${key}R)`).append("g").attr("clip-path",`url(#${key}B)`),O,"#9c7031");
 g.selectAll("ellipse.o").data([R,B,O]).join("ellipse").attr("cx",d=>d[0]).attr("cy",d=>d[1]).attr("rx",d=>d[2]).attr("ry",d=>d[3]).attr("fill","none").attr("stroke","#0a0a14").attr("stroke-width",1.1);
 g.selectAll("text.n").data(counts).join("text").attr("x",(d,i)=>pos[i][0]).attr("y",(d,i)=>pos[i][1]+3.2).attr("text-anchor","middle").attr("font-size",9).attr("fill","#1a1414").text(d=>d);
 const tc=["#b53240","#3a70c0","#d98a48"];
 vennSets.forEach((s,i)=>g.append("text").attr("x",titles[i][0]).attr("y",titles[i][1]).attr("text-anchor","middle").attr("font-size",9).attr("font-weight","bold").attr("fill",tc[i]).text(s));
}
venn("vd",[481,340,72,72],[551.7,340,71.8,72],[516.7,401.5,72,72.5],vennD,
 [[449,321.7],[516.7,303.3],[583,321.7],[516.7,360.7],[467,389.7],[565.7,389.7],[516.7,438.7]],
 [[423,277.5],[608,277.5],[516,482]]);
venn("ve",[131.7,592.3,72.3,68],[203.3,592.3,72.7,68],[167.3,650,72.3,68],vennE,
 [[99.3,575.7],[167,558],[234.3,575.7],[167,612],[117.7,638.7],[217,638.7],[167,684.7]],
 [[73.3,534],[260,534],[167,726]]);

// Heatmap
(function(){
 const g=svg.append("g");
 const L=402.7,Rr=626,T=520.7,Bm=714.3;
 const nCols=heatRows[0].length;
 const xs=d3.scaleBand().domain(d3.range(nCols)).range([L,Rr]);
 const ys=d3.scaleBand().domain(heatGenes).range([T,Bm]);
 const stops=[[4,"#1236e6"],[6,"#5fb0ee"],[8,"#d4ecf9"],[8.5,"#fbf6f9"],[10,"#f67fa6"],[12,"#e8142c"],[14,"#a00008"]];
 const col=d3.scaleLinear().domain(stops.map(d=>d[0])).range(stops.map(d=>d[1])).clamp(true);
 heatRows.forEach((row,i)=>{
  g.selectAll(null).data(row).join("rect").attr("x",(d,j)=>xs(j)).attr("y",ys(heatGenes[i])).attr("width",xs.bandwidth()+.3).attr("height",ys.bandwidth()+.2).attr("fill",d=>col(d));
 });
 // group bar
 const gc={"Con":"#3f80d0","Day1":"#f0702a","Day14":"#48c820","Week>4":"#b81c24"};
 const tc={"Down":"#e81c24","Up":"#f08a28"};
 let st=0;
 sampleGroups.forEach(s=>{
  g.append("rect").attr("x",xs(st)).attr("y",513.3).attr("width",xs.bandwidth()*s[1]).attr("height",5.7).attr("fill",gc[s[0]]);
  st+=s[1];
 });
 g.append("text").attr("x",627.7).attr("y",518.2).attr("font-size",5.3).attr("font-weight","bold").attr("fill","#222").text("Group");
 g.append("text").attr("x",514).attr("y",507).attr("text-anchor","middle").attr("font-size",6.8).attr("font-weight","bold").attr("fill","#222").text("Heatmap Plot");
 heatGenes.forEach((n,i)=>{
  g.append("text").attr("x",627.7).attr("y",ys(n)+ys.bandwidth()/2+2.4).attr("font-size",7).attr("fill","#222").text(n);
  g.append("rect").attr("x",395.3).attr("y",ys(n)).attr("width",5.4).attr("height",ys.bandwidth()+.2).attr("fill",tc[geneType[i]]);
 });
 g.append("text").attr("transform","translate(396,717) rotate(90)").attr("font-size",5.5).attr("font-weight","bold").attr("fill","#222").text("Type");
 // dendrogram
 const root=d3.hierarchy(dendro);
 const hx=d3.scaleLinear().domain([0,91]).range([394.3,364]);
 root.eachAfter(n=>{
  if(!n.children){n.py=ys(n.data.n)+ys.bandwidth()/2;n.px=hx(0);}
  else{n.py=d3.mean(n.children,c=>c.py);n.px=hx(n.data.h);}
 });
 const seg=[];
 root.each(n=>{if(n.children){
  const a=n.children[0],b=n.children[1];
  seg.push(`M${a.px},${a.py}H${n.px}V${b.py}H${b.px}`);
 }});
 g.selectAll("path.den").data(seg).join("path").attr("d",d=>d).attr("fill","none").attr("stroke","#444").attr("stroke-width",.7);
 // legends
 const lt=(t,x,y,fs,b)=>g.append("text").attr("x",x).attr("y",y).attr("font-size",fs).attr("font-weight",b?"bold":"normal").attr("fill","#333").text(t);
 lt("Group",663.3,516.5,5.2,true);
 sampleGroups.forEach((s,i)=>{
  g.append("rect").attr("x",663.3).attr("y",520+i*9.6).attr("width",9).attr("height",9.6).attr("fill",gc[s[0]]);
  lt(s[0],674.3,526.6+i*9.6,5,false);
 });
 lt("Type",663.3,569.2,5.2,true);
 ["Down","Up"].forEach((s,i)=>{
  g.append("rect").attr("x",663.3).attr("y",571.7+i*9.6).attr("width",9).attr("height",9.6).attr("fill",tc[s]);
  lt(s,674.3,578.3+i*9.6,5,false);
 });
 const cb=d3.scaleLinear().domain([14,4]).range([605.7,678]);
 const grad=svg.append("defs").append("linearGradient").attr("id","cbg").attr("x1",0).attr("x2",0).attr("y1",0).attr("y2",1);
 const top=14.55,bot=2.8;
 d3.range(0,41).forEach(i=>{const v=top+(bot-top)*i/40;grad.append("stop").attr("offset",i/40).attr("stop-color",col(v));});
 g.append("rect").attr("x",663.3).attr("y",cb(top)).attr("width",6).attr("height",cb(bot)-cb(top)).attr("fill","url(#cbg)");
 [14,12,10,8,6,4].forEach(v=>lt(v,672.3,cb(v)+1.8,5,false));
})();

// Boxplot
(function(){
 const g=svg.append("g");
 const L=56.7,Rr=706.4,yB=969.3;
 const x=d3.scaleBand().domain(boxGenes).range([L,Rr]);
 const y=d3.scaleLinear().domain([15,5]).range([784,923.7]);
 const cols=["#1f45d6","#f0ec38","#6fe02a","#e3142c"];
 const step=6.77,bw=6.1;
 [conBox,day1Box,day14Box,weekBox].forEach((arr,gi)=>{
  const off=(gi-1.5)*step;
  arr.forEach((s,i)=>{
   const cx=x(boxGenes[i])+x.bandwidth()/2+off;
   g.append("line").attr("x1",cx).attr("x2",cx).attr("y1",y(s[0])).attr("y2",y(s[4])).attr("stroke","#444").attr("stroke-width",1.1);
   g.append("rect").attr("x",cx-bw/2).attr("y",y(s[3])).attr("width",bw).attr("height",y(s[1])-y(s[3])).attr("fill",cols[gi]).attr("stroke","#1a1a1a").attr("stroke-width",.6);
   g.append("line").attr("x1",cx-bw/2).attr("x2",cx+bw/2).attr("y1",y(s[2])).attr("y2",y(s[2])).attr("stroke","#111").attr("stroke-width",1.1);
   g.selectAll(null).data(s.slice(5)).join("circle").attr("cx",cx).attr("cy",d=>y(d)).attr("r",.6).attr("fill","#333");
  });
 });
 boxGenes.forEach(n=>{
  g.append("text").attr("x",x(n)+x.bandwidth()/2).attr("y",791).attr("text-anchor","middle").attr("font-size",12.8).attr("fill","#333").text("***");
 });
 g.append("path").attr("d",`M${L},780.7V${yB}H${Rr}`).attr("fill","none").attr("stroke","#333").attr("stroke-width",1);
 const ay=g.append("g").attr("transform",`translate(${L},0)`).call(d3.axisLeft(y).tickValues(boxTicks).tickSize(2.5));
 ay.select(".domain").remove();ay.selectAll("text").attr("font-size",10.5).attr("font-family",FF).attr("fill","#333");
 const ax=g.append("g").attr("transform",`translate(0,${yB})`).call(d3.axisBottom(x).tickSize(2.5));
 ax.select(".domain").remove();
 ax.selectAll("text").attr("font-size",13).attr("font-family",FF).attr("fill","#222").attr("text-anchor","end").attr("dx",0).attr("dy",0).attr("y",0)
   .attr("transform","translate(6,9) rotate(-50)");
 g.append("text").attr("transform","translate(30,875) rotate(-90)").attr("text-anchor","middle").attr("font-size",15.5).attr("fill","#222").text("Expression");
 // legend
 const kx=[256.7,312,374,443.3],tx=[278.7,334,395.7,465];
 boxGroups.forEach((n,i)=>{
  g.append("line").attr("x1",kx[i]+6.7).attr("x2",kx[i]+6.7).attr("y1",756).attr("y2",767).attr("stroke","#333").attr("stroke-width",.8);
  g.append("rect").attr("x",kx[i]).attr("y",758).attr("width",13.3).attr("height",7.4).attr("fill",cols[i]).attr("stroke","#222").attr("stroke-width",.7);
  g.append("line").attr("x1",kx[i]).attr("x2",kx[i]+13.3).attr("y1",761.7).attr("y2",761.7).attr("stroke","#111").attr("stroke-width",.8);
  g.append("text").attr("transform",`translate(${tx[i]},766) scale(1.12,1)`).attr("font-size",12).attr("fill","#222").text(n);
 });
})();
</script></body></html>
